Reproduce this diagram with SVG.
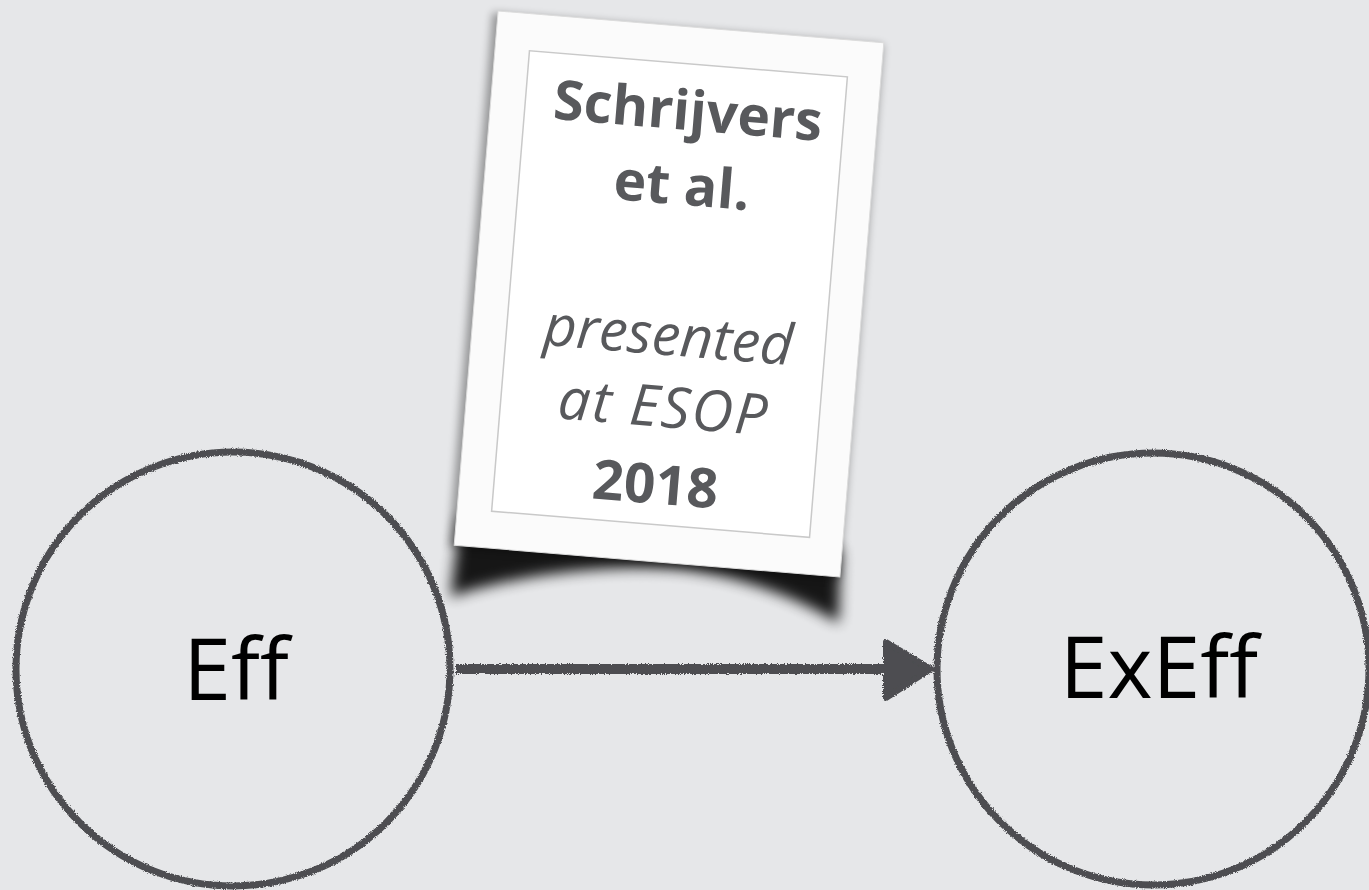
<svg xmlns="http://www.w3.org/2000/svg" width="1369" height="890" viewBox="0 0 1369 890">
<defs>
<filter id="rough" x="-5%" y="-5%" width="110%" height="110%">
<feTurbulence type="fractalNoise" baseFrequency="0.9" numOctaves="2" seed="4" result="n"/>
<feDisplacementMap in="SourceGraphic" in2="n" scale="3.5" xChannelSelector="R" yChannelSelector="G"/>
</filter>
<filter id="blur6" x="-20%" y="-50%" width="140%" height="200%"><feGaussianBlur stdDeviation="7"/></filter>
<filter id="blur3" x="-20%" y="-20%" width="140%" height="140%"><feGaussianBlur stdDeviation="4"/></filter>
<style>
.ring{fill:none;stroke:#4d4e51;stroke-width:7}
.lbl{font-family:"Open Sans","Liberation Sans",sans-serif;font-size:86px;fill:#000;text-anchor:middle}
.ct{font-family:"Open Sans","Liberation Sans",sans-serif;font-size:55px;fill:#58595c;text-anchor:middle}
.b{font-weight:bold}
.i{font-style:italic;font-size:57px}
</style>
</defs>
<rect width="1369" height="890" fill="#e6e7e9"/>
<g id="connectors" filter="url(#rough)">
<line x1="456" y1="669" x2="892" y2="669" stroke="#4d4e51" stroke-width="10"/>
<polygon points="886,642 931,669 886,698" fill="#4d4e51" stroke="#4d4e51" stroke-width="6" stroke-linejoin="round"/>
</g>
<g id="node-eff">
<circle class="ring" cx="233" cy="669" r="217" filter="url(#rough)"/>
<text class="lbl" x="236" y="700">Eff</text>
</g>
<g id="node-exeff">
<circle class="ring" cx="1153" cy="669" r="216" filter="url(#rough)"/>
<text class="lbl" x="1159" y="698">ExEff</text>
</g>
<g id="card" transform="translate(669,294) rotate(4.7)">
<path d="M -190 240 L 192 240 L 196 314 C 150 290 80 272 20 274 C -60 276 -150 300 -193 320 Z" fill="#000" opacity="0.9" filter="url(#blur6)"/>
<rect x="-199" y="-266" width="392" height="536" fill="#000" opacity="0.35" filter="url(#blur3)"/>
<rect x="-193.5" y="-268" width="387" height="536" fill="#fbfbfb" stroke="#dcdcdc" stroke-width="1"/>
<rect x="-159" y="-231" width="319" height="462" fill="#ffffff" stroke="#c9c9c9" stroke-width="1.5"/>
<text class="ct b" x="4" y="-165">Schrijvers</text>
<text class="ct b" x="4" y="-90">et al.</text>
<text class="ct i" x="3" y="61">presented</text>
<text class="ct i" x="4" y="133" letter-spacing="2">at ESOP</text>
<text class="ct b" x="2" y="210">2018</text>
</g>
</svg>
